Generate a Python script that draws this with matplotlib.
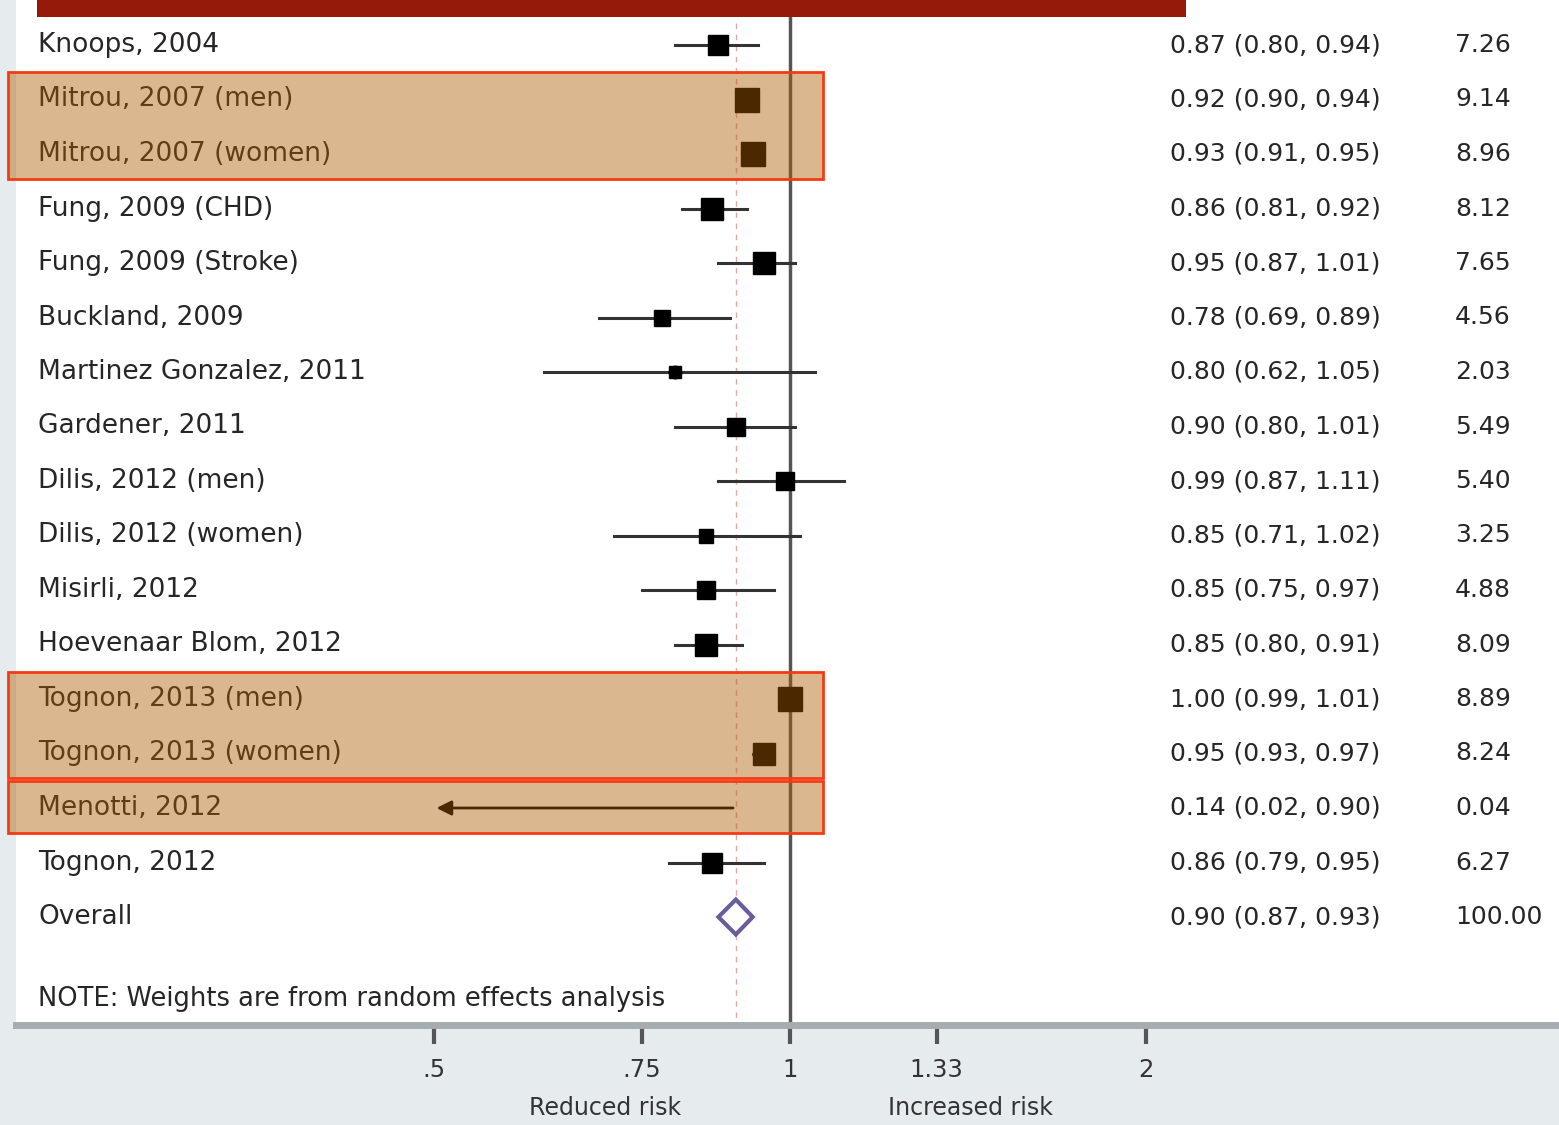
import numpy as np
import matplotlib
matplotlib.use("Agg")
import matplotlib.pyplot as plt
from matplotlib.patches import Rectangle, Polygon
from matplotlib.ticker import FixedLocator, FixedFormatter
from matplotlib.transforms import blended_transform_factory

# study data
studies = ["Knoops, 2004", "Mitrou, 2007 (men)", "Mitrou, 2007 (women)",
           "Fung, 2009 (CHD)", "Fung, 2009 (Stroke)", "Buckland, 2009",
           "Martinez Gonzalez, 2011", "Gardener, 2011", "Dilis, 2012 (men)",
           "Dilis, 2012 (women)", "Misirli, 2012", "Hoevenaar Blom, 2012",
           "Tognon, 2013 (men)", "Tognon, 2013 (women)", "Menotti, 2012",
           "Tognon, 2012"]
est = [0.87, 0.92, 0.93, 0.86, 0.95, 0.78, 0.80, 0.90, 0.99, 0.85, 0.85, 0.85,
       1.00, 0.95, 0.14, 0.86]
lo = [0.80, 0.90, 0.91, 0.81, 0.87, 0.69, 0.62, 0.80, 0.87, 0.71, 0.75, 0.80,
      0.99, 0.93, 0.02, 0.79]
hi = [0.94, 0.94, 0.95, 0.92, 1.01, 0.89, 1.05, 1.01, 1.11, 1.02, 0.97, 0.91,
      1.01, 0.97, 0.90, 0.95]
weights = [7.26, 9.14, 8.96, 8.12, 7.65, 4.56, 2.03, 5.49, 5.40, 3.25, 4.88,
           8.09, 8.89, 8.24, 0.04, 6.27]
overall = (0.90, 0.87, 0.93)
tick_vals = [0.5, 0.75, 1, 1.33, 2]
tick_labels = [".5", ".75", "1", "1.33", "2"]
highlight = [(2, 3), (13, 14), (15, 15)]  # row ranges with tan boxes

W, H = 1559, 1125
fig = plt.figure(figsize=(W / 100, H / 100), dpi=100, facecolor="#e6ebee")

# axes: pixel 16..1559 horizontally, 0..1025 vertically
ax_bottom = 1025
ax = fig.add_axes([16 / W, 1 - ax_bottom / H, 1 - 16 / W, ax_bottom / H])
ax.set_facecolor("white")
ax.set_xscale("log")
px_per_ln = 514.0
x_one = 790
ax.set_xlim(np.exp((16 - x_one) / px_per_ln), np.exp((W - x_one) / px_per_ln))
row_gap = 54.5
row0 = 45
ax.set_ylim(1 + (ax_bottom - row0) / row_gap, 1 - row0 / row_gap)

for s in ["top", "left", "right"]:
    ax.spines[s].set_visible(False)
ax.spines["bottom"].set_color("#a6adb1")
ax.spines["bottom"].set_linewidth(5)
ax.xaxis.set_major_locator(FixedLocator(tick_vals))
ax.xaxis.set_major_formatter(FixedFormatter(tick_labels))
ax.xaxis.set_minor_locator(FixedLocator([]))
ax.tick_params(axis="x", direction="out", length=14, width=3, color="#555",
               labelsize=17.5, labelcolor="#333", pad=10)
ax.set_yticks([])

rows = np.arange(1, len(studies) + 1)
xmin, xmax = 0.5, 2.0

# null line and overall line
ax.plot([1, 1], [0.45, ax.get_ylim()[0]], color="#555", lw=2.5, zorder=2, clip_on=False)
ax.plot([overall[0]] * 2, [0.6, ax.get_ylim()[0]], color="#d05050", lw=1,
        ls=(0, (4, 4)), alpha=0.5, zorder=1)

# confidence intervals and weight boxes
for r, e, l, h, w in zip(rows, est, lo, hi, weights):
    l_c, h_c = max(l, xmin), min(h, xmax)
    if l < xmin:
        ax.annotate("", xy=(xmin, r), xytext=(h_c, r),
                    arrowprops=dict(arrowstyle="-|>", color="black", lw=2,
                                    mutation_scale=22), zorder=3)
    else:
        ax.plot([l_c, h_c], [r, r], color="#333", lw=2.2, zorder=3)
    if xmin <= e <= xmax:
        ax.plot(e, r, marker="s", ms=5.6 * np.sqrt(w), color="black", zorder=4)
        ax.plot(e, r, marker="o", ms=9, color="black", zorder=4)

# overall diamond
orow = len(studies) + 1
dh = 0.32
ax.add_patch(Polygon([(overall[1], orow), (overall[0], orow - dh),
                      (overall[2], orow), (overall[0], orow + dh)],
                     closed=True, facecolor="white", edgecolor="#6b5d9c",
                     lw=3, zorder=4))

# text columns
tx = blended_transform_factory(fig.transFigure, ax.transData)
txt_kw = dict(transform=tx, va="center", fontsize=19, color="#262626")
num_kw = dict(transform=tx, va="center", fontsize=18, color="#262626")
for r, name, e, l, h, w in zip(rows, studies, est, lo, hi, weights):
    ax.text(38 / W, r, name, **txt_kw)
    ax.text(1170 / W, r, f"{e:.2f} ({l:.2f}, {h:.2f})", **num_kw)
    ax.text(1455 / W, r, f"{w:.2f}", **num_kw)
ax.text(38 / W, orow, "Overall", **txt_kw)
ax.text(1170 / W, orow, f"{overall[0]:.2f} ({overall[1]:.2f}, {overall[2]:.2f})", **num_kw)
ax.text(1455 / W, orow, "100.00", **num_kw)
ax.text(38 / W, orow + 1.5, "NOTE: Weights are from random effects analysis",
        transform=tx, va="center", fontsize=18.5, color="#262626")

# highlight boxes
for a, b in highlight:
    y0, y1 = a - 0.5, b + 0.45
    ax.add_patch(Rectangle((8 / W, y0), (823 - 8) / W, y1 - y0, transform=tx,
                           facecolor="#ac5c00", alpha=0.44, edgecolor="none",
                           zorder=6, clip_on=False))
    ax.add_patch(Rectangle((8 / W, y0), (823 - 8) / W, y1 - y0, transform=tx,
                           facecolor="none", edgecolor="#f53a14", lw=2,
                           zorder=7, clip_on=False))

# title bar at top (cropped)
fig.patches.append(Rectangle((37 / W, 1 - 17 / H), (1186 - 37) / W, 17 / H,
                             transform=fig.transFigure, facecolor="#951a0a",
                             edgecolor="none", zorder=10))

fig.text(605 / W, 1 - 1108 / H, "Reduced risk", ha="center", va="center",
         fontsize=17, color="#333")
fig.text(970 / W, 1 - 1108 / H, "Increased risk", ha="center", va="center",
         fontsize=17, color="#333")

fig.savefig("out.png", dpi=100, facecolor=fig.get_facecolor())
